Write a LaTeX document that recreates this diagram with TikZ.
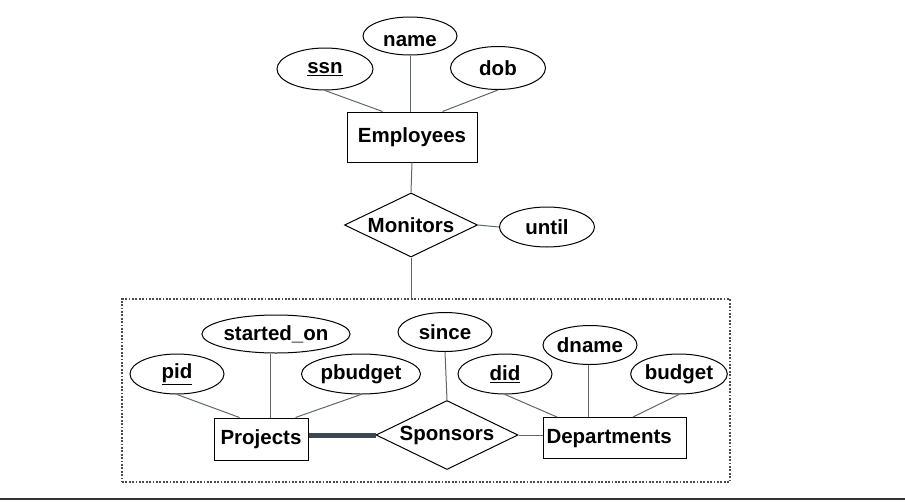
\documentclass[tikz,border=0pt]{standalone}
\usepackage{fontspec}
\setmainfont{Liberation Sans}
\usetikzlibrary{shapes.geometric}
\definecolor{linkgray}{RGB}{95,102,112}
\definecolor{slate}{RGB}{62,70,84}
\definecolor{boxgray}{RGB}{70,75,85}
\tikzset{
  entity/.style = {draw, line width = 1pt, rectangle, inner sep = 0pt,
    text height = 14.7pt, text depth = 4.3pt},
  attr/.style = {draw, line width = 1pt, ellipse, inner sep = 0pt,
    minimum width = 94pt, minimum height = 40pt},
  rel/.style = {draw, line width = 1pt, diamond, inner sep = 0pt, aspect = 2},
  link/.style = {draw = linkgray, line width = 1pt},
  aggbox/.style = {draw = boxgray, line width = 2pt, dash pattern = on 1.8pt off 1.6pt,
    rectangle, inner sep = 0pt},
}
\newcommand{\erkey}[1]{\underline{#1}}
\begin{document}
\begin{tikzpicture}[x = 1pt, y = -1pt, font = \fontsize{20.5}{24}\selectfont\bfseries]
      \useasboundingbox (0, 0) rectangle (905, 501);
      % Employees and its attributes
      \node[entity, minimum width = 130pt, minimum height = 50pt] (emp) at (412, 137) {Employees};
      \node[attr, minimum width = 96pt, minimum height = 42pt] (ssn) at (325, 69) {\erkey{ssn}};
      \node[attr, minimum height = 38pt, text height = 22pt] (name) at (410, 36) {name};
      \node[attr, minimum width = 95pt, minimum height = 43pt] (dob) at (498, 68) {dob};
      \draw[link] (ssn.south) -- ([xshift = 36pt]emp.north west);
      \draw[link] (name.south) -- (name.south |- emp.north);
      \draw[link] (dob.south) -- ([xshift = -35pt]emp.north east);
      % Monitors
      \node[rel, minimum width = 133pt, minimum height = 64pt] (mon) at (411, 225) {Monitors};
      \node[attr, minimum width = 95pt] (until) at (547, 227) {until};
      \draw[link] (emp.south) -- (mon.north);
      \draw[link] (mon.east) -- (until.west);
      % aggregation box
      \node[aggbox, minimum width = 608pt, minimum height = 183pt] (agg) at (426, 390.5) {};
      \draw[link] (mon.south) -- (mon.south |- agg.north);
      % Projects and its attributes
      \node[entity, minimum width = 94pt, minimum height = 42pt] (proj) at (261, 439) {Projects};
      \node[attr] (pid) at (177, 374) {\erkey{pid}};
      \node[attr, minimum width = 123pt, minimum height = 38pt] (started) at (276, 334) {started\_on};
      \node[attr, minimum width = 119pt] (pbudget) at (361, 374) {pbudget};
      \draw[link] (pid.south) -- ([xshift = 26pt]proj.north west);
      \draw[link] ([xshift = 9pt]proj.north) -- ([xshift = 9pt]proj.north |- started.south);
      \draw[link] (pbudget.south) -- ([xshift = -13pt]proj.north east);
      % Sponsors
      \node[rel, minimum width = 142pt, minimum height = 69pt] (spons) at (447, 435) {Sponsors};
      \node[attr, minimum height = 39pt] (since) at (445, 332) {since};
      \draw[link] (since.south) -- (spons.north);
      \draw[draw = slate, line width = 5pt] (proj.east |- spons.west) -- (spons.west);
      % Departments and its attributes
      \node[entity, minimum width = 143pt, minimum height = 41pt, text width = 137pt, align = left]
        (dept) at (615, 438) {Departments};
      \node[attr] (did) at (505, 374) {\erkey{did}};
      \node[attr, minimum height = 39pt] (dname) at (590, 345) {dname};
      \node[attr] (budget) at (679, 374) {budget};
      \draw[link] (spons.east) -- (spons.east -| dept.west);
      \draw[link] (did.south) -- ([xshift = 14pt]dept.north west);
      \draw[link] ([xshift = -2pt]dname.south) -- ([xshift = -2pt]dname.south |- dept.north);
      \draw[link] (budget.south) -- ([xshift = -54pt]dept.north east);
      % bottom rule
      \draw[draw = black!80, line width = 2.5pt] (0, 499) -- (905, 499);
    \end{tikzpicture}
\end{document}
